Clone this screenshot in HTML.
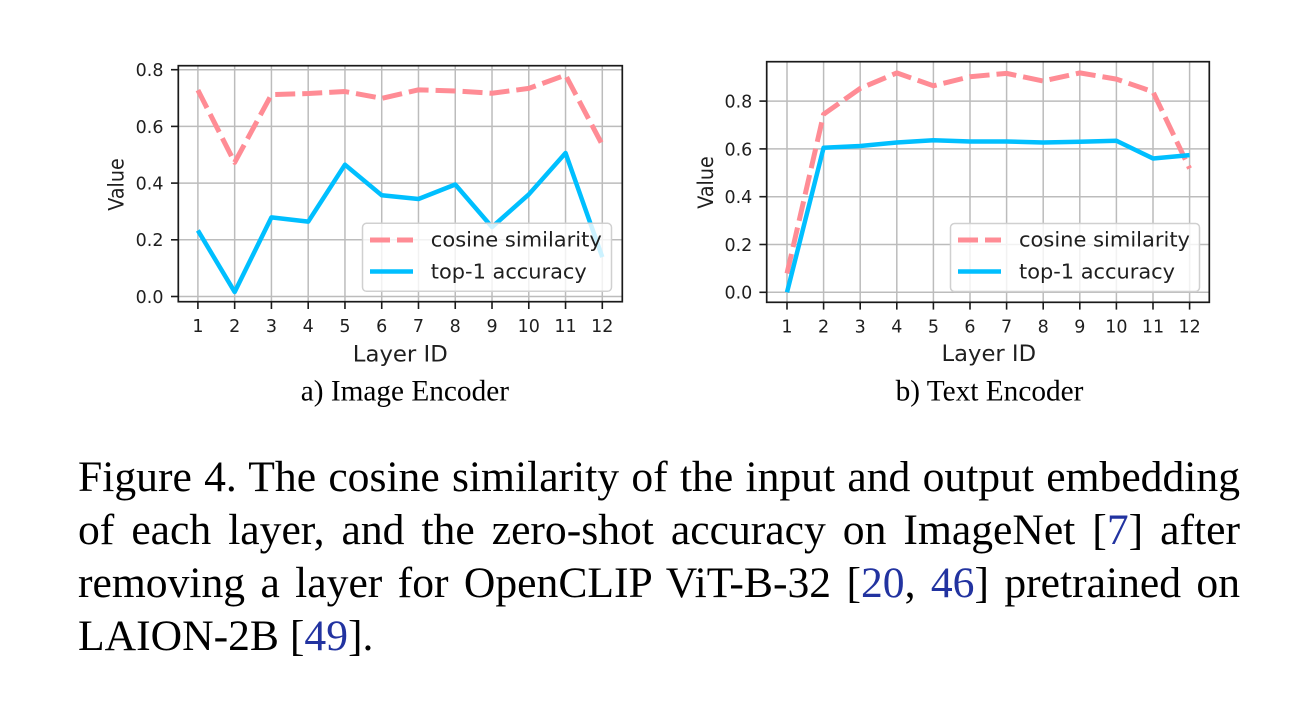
<!DOCTYPE html>
<html>
<head>
<meta charset="utf-8">
<style>
  html,body{margin:0;padding:0;background:#fff;}
  body{width:1310px;height:713px;position:relative;overflow:hidden;}
  svg{position:absolute;left:0;top:0;}
  .cap{position:absolute;left:78px;width:1162px;font-family:"Liberation Serif",serif;font-size:43.6px;line-height:53px;color:#000;white-space:nowrap;}
  .j{text-align:justify;text-align-last:justify;}
  .c{color:#2233a0;}
</style>
</head>
<body>
<svg width="1310" height="713" viewBox="0 0 1310 713" xmlns="http://www.w3.org/2000/svg">
  <rect width="1310" height="713" fill="#fff"/>

  <!-- ============ LEFT CHART ============ -->
  <g stroke="#bcbcbc" stroke-width="1.5" fill="none">
    <line x1="197.9" y1="65.7" x2="197.9" y2="301.7"/>
    <line x1="234.66" y1="65.7" x2="234.66" y2="301.7"/>
    <line x1="271.43" y1="65.7" x2="271.43" y2="301.7"/>
    <line x1="308.19" y1="65.7" x2="308.19" y2="301.7"/>
    <line x1="344.96" y1="65.7" x2="344.96" y2="301.7"/>
    <line x1="381.72" y1="65.7" x2="381.72" y2="301.7"/>
    <line x1="418.48" y1="65.7" x2="418.48" y2="301.7"/>
    <line x1="455.25" y1="65.7" x2="455.25" y2="301.7"/>
    <line x1="492.01" y1="65.7" x2="492.01" y2="301.7"/>
    <line x1="528.78" y1="65.7" x2="528.78" y2="301.7"/>
    <line x1="565.54" y1="65.7" x2="565.54" y2="301.7"/>
    <line x1="602.3" y1="65.7" x2="602.3" y2="301.7"/>
    <line x1="178.3" y1="296.5" x2="622.3" y2="296.5"/>
    <line x1="178.3" y1="239.8" x2="622.3" y2="239.8"/>
    <line x1="178.3" y1="183.1" x2="622.3" y2="183.1"/>
    <line x1="178.3" y1="126.4" x2="622.3" y2="126.4"/>
    <line x1="178.3" y1="69.7" x2="622.3" y2="69.7"/>
  </g>
  <polyline fill="none" stroke="#ff8c95" stroke-width="5" stroke-dasharray="20 7" stroke-linejoin="round"
    points="197.9,90.11 234.66,162.4 271.43,94.65 308.19,93.51 344.96,91.53 381.72,98.33 418.48,89.83 455.25,90.96 492.01,93.23 528.78,88.41 565.54,75.09 602.3,144.83"/>
  <polyline fill="none" stroke="#00bfff" stroke-width="4.5" stroke-linejoin="round"
    points="197.9,230.44 234.66,291.96 271.43,217.4 308.19,221.66 344.96,164.67 381.72,195.29 418.48,198.98 455.25,184.52 492.01,227.04 528.78,194.44 565.54,153.05 602.3,257.09"/>
  <rect x="178.3" y="65.7" width="444" height="236" fill="none" stroke="#1a1a1a" stroke-width="1.7"/>
  <g stroke="#1a1a1a" stroke-width="1.6">
    <line x1="171" y1="296.5" x2="178.3" y2="296.5"/>
    <line x1="171" y1="239.8" x2="178.3" y2="239.8"/>
    <line x1="171" y1="183.1" x2="178.3" y2="183.1"/>
    <line x1="171" y1="126.4" x2="178.3" y2="126.4"/>
    <line x1="171" y1="69.7" x2="178.3" y2="69.7"/>
    <line x1="197.9" y1="301.7" x2="197.9" y2="309"/>
    <line x1="234.66" y1="301.7" x2="234.66" y2="309"/>
    <line x1="271.43" y1="301.7" x2="271.43" y2="309"/>
    <line x1="308.19" y1="301.7" x2="308.19" y2="309"/>
    <line x1="344.96" y1="301.7" x2="344.96" y2="309"/>
    <line x1="381.72" y1="301.7" x2="381.72" y2="309"/>
    <line x1="418.48" y1="301.7" x2="418.48" y2="309"/>
    <line x1="455.25" y1="301.7" x2="455.25" y2="309"/>
    <line x1="492.01" y1="301.7" x2="492.01" y2="309"/>
    <line x1="528.78" y1="301.7" x2="528.78" y2="309"/>
    <line x1="565.54" y1="301.7" x2="565.54" y2="309"/>
    <line x1="602.3" y1="301.7" x2="602.3" y2="309"/>
  </g>
  <g font-family="DejaVu Sans, Liberation Sans, sans-serif" font-size="17.5" fill="#1f1f1f" text-anchor="end">
    <text x="163.5" y="302.9">0.0</text>
    <text x="163.5" y="246.2">0.2</text>
    <text x="163.5" y="189.5">0.4</text>
    <text x="163.5" y="132.8">0.6</text>
    <text x="163.5" y="76.1">0.8</text>
  </g>
  <g font-family="DejaVu Sans, Liberation Sans, sans-serif" font-size="17.5" fill="#1f1f1f" text-anchor="middle">
    <text x="197.9" y="332">1</text>
    <text x="234.66" y="332">2</text>
    <text x="271.43" y="332">3</text>
    <text x="308.19" y="332">4</text>
    <text x="344.96" y="332">5</text>
    <text x="381.72" y="332">6</text>
    <text x="418.48" y="332">7</text>
    <text x="455.25" y="332">8</text>
    <text x="492.01" y="332">9</text>
    <text x="528.78" y="332">10</text>
    <text x="565.54" y="332">11</text>
    <text x="602.3" y="332">12</text>
  </g>
  <text x="400.3" y="361.5" font-family="DejaVu Sans, Liberation Sans, sans-serif" font-size="22.5" fill="#1f1f1f" text-anchor="middle" textLength="95" lengthAdjust="spacingAndGlyphs">Layer ID</text>
  <text transform="translate(123.3,184.5) rotate(-90)" x="0" y="0" font-family="DejaVu Sans, Liberation Sans, sans-serif" font-size="21" fill="#1f1f1f" text-anchor="middle" textLength="52.5" lengthAdjust="spacingAndGlyphs">Value</text>
  <!-- legend -->
  <rect x="362.5" y="223.3" width="249" height="68" rx="4" ry="4" fill="#fff" fill-opacity="0.8" stroke="#d0d0d0" stroke-width="1.5"/>
  <line x1="370" y1="240" x2="413" y2="240" stroke="#ff8c95" stroke-width="5" stroke-dasharray="20 7"/>
  <line x1="370" y1="271.5" x2="413" y2="271.5" stroke="#00bfff" stroke-width="4.5"/>
  <g font-family="DejaVu Sans, Liberation Sans, sans-serif" font-size="20" fill="#1f1f1f">
    <text x="430.8" y="246.7" textLength="171" lengthAdjust="spacingAndGlyphs">cosine similarity</text>
    <text x="430.8" y="278.3" textLength="156" lengthAdjust="spacingAndGlyphs">top-1 accuracy</text>
  </g>

  <!-- ============ RIGHT CHART ============ -->
  <g stroke="#bcbcbc" stroke-width="1.5" fill="none">
    <line x1="787" y1="61.7" x2="787" y2="302.3"/>
    <line x1="823.6" y1="61.7" x2="823.6" y2="302.3"/>
    <line x1="860.2" y1="61.7" x2="860.2" y2="302.3"/>
    <line x1="896.8" y1="61.7" x2="896.8" y2="302.3"/>
    <line x1="933.4" y1="61.7" x2="933.4" y2="302.3"/>
    <line x1="970" y1="61.7" x2="970" y2="302.3"/>
    <line x1="1006.6" y1="61.7" x2="1006.6" y2="302.3"/>
    <line x1="1043.2" y1="61.7" x2="1043.2" y2="302.3"/>
    <line x1="1079.8" y1="61.7" x2="1079.8" y2="302.3"/>
    <line x1="1116.4" y1="61.7" x2="1116.4" y2="302.3"/>
    <line x1="1153" y1="61.7" x2="1153" y2="302.3"/>
    <line x1="1189.6" y1="61.7" x2="1189.6" y2="302.3"/>
    <line x1="766.7" y1="292.3" x2="1209.3" y2="292.3"/>
    <line x1="766.7" y1="244.5" x2="1209.3" y2="244.5"/>
    <line x1="766.7" y1="196.7" x2="1209.3" y2="196.7"/>
    <line x1="766.7" y1="148.9" x2="1209.3" y2="148.9"/>
    <line x1="766.7" y1="101.1" x2="1209.3" y2="101.1"/>
  </g>
  <polyline fill="none" stroke="#ff8c95" stroke-width="5" stroke-dasharray="20 7" stroke-linejoin="round"
    points="787,273.42 823.6,114.24 860.2,88.43 896.8,72.9 933.4,85.8 970,76.72 1006.6,73.38 1043.2,81.02 1079.8,72.9 1116.4,79.11 1153,91.78 1189.6,168.5"/>
  <polyline fill="none" stroke="#00bfff" stroke-width="4.5" stroke-linejoin="round"
    points="787,292.3 823.6,147.7 860.2,146.03 896.8,142.45 933.4,140.3 970,141.49 1006.6,141.49 1043.2,142.45 1079.8,141.73 1116.4,140.77 1153,158.46 1189.6,155.11"/>
  <rect x="766.7" y="61.7" width="442.6" height="240.6" fill="none" stroke="#1a1a1a" stroke-width="1.7"/>
  <g stroke="#1a1a1a" stroke-width="1.6">
    <line x1="759.4" y1="292.3" x2="766.7" y2="292.3"/>
    <line x1="759.4" y1="244.5" x2="766.7" y2="244.5"/>
    <line x1="759.4" y1="196.7" x2="766.7" y2="196.7"/>
    <line x1="759.4" y1="148.9" x2="766.7" y2="148.9"/>
    <line x1="759.4" y1="101.1" x2="766.7" y2="101.1"/>
    <line x1="787" y1="302.3" x2="787" y2="309.6"/>
    <line x1="823.6" y1="302.3" x2="823.6" y2="309.6"/>
    <line x1="860.2" y1="302.3" x2="860.2" y2="309.6"/>
    <line x1="896.8" y1="302.3" x2="896.8" y2="309.6"/>
    <line x1="933.4" y1="302.3" x2="933.4" y2="309.6"/>
    <line x1="970" y1="302.3" x2="970" y2="309.6"/>
    <line x1="1006.6" y1="302.3" x2="1006.6" y2="309.6"/>
    <line x1="1043.2" y1="302.3" x2="1043.2" y2="309.6"/>
    <line x1="1079.8" y1="302.3" x2="1079.8" y2="309.6"/>
    <line x1="1116.4" y1="302.3" x2="1116.4" y2="309.6"/>
    <line x1="1153" y1="302.3" x2="1153" y2="309.6"/>
    <line x1="1189.6" y1="302.3" x2="1189.6" y2="309.6"/>
  </g>
  <g font-family="DejaVu Sans, Liberation Sans, sans-serif" font-size="17.5" fill="#1f1f1f" text-anchor="end">
    <text x="752.3" y="298.7">0.0</text>
    <text x="752.3" y="250.9">0.2</text>
    <text x="752.3" y="203.1">0.4</text>
    <text x="752.3" y="155.3">0.6</text>
    <text x="752.3" y="107.5">0.8</text>
  </g>
  <g font-family="DejaVu Sans, Liberation Sans, sans-serif" font-size="17.5" fill="#1f1f1f" text-anchor="middle">
    <text x="787" y="332.4">1</text>
    <text x="823.6" y="332.4">2</text>
    <text x="860.2" y="332.4">3</text>
    <text x="896.8" y="332.4">4</text>
    <text x="933.4" y="332.4">5</text>
    <text x="970" y="332.4">6</text>
    <text x="1006.6" y="332.4">7</text>
    <text x="1043.2" y="332.4">8</text>
    <text x="1079.8" y="332.4">9</text>
    <text x="1116.4" y="332.4">10</text>
    <text x="1153" y="332.4">11</text>
    <text x="1189.6" y="332.4">12</text>
  </g>
  <text x="988.8" y="361" font-family="DejaVu Sans, Liberation Sans, sans-serif" font-size="22.5" fill="#1f1f1f" text-anchor="middle" textLength="94.5" lengthAdjust="spacingAndGlyphs">Layer ID</text>
  <text transform="translate(713,182.5) rotate(-90)" x="0" y="0" font-family="DejaVu Sans, Liberation Sans, sans-serif" font-size="21" fill="#1f1f1f" text-anchor="middle" textLength="52.5" lengthAdjust="spacingAndGlyphs">Value</text>
  <!-- legend -->
  <rect x="950.5" y="223.5" width="249" height="68" rx="4" ry="4" fill="#fff" fill-opacity="0.8" stroke="#d0d0d0" stroke-width="1.5"/>
  <line x1="958" y1="240" x2="1001" y2="240" stroke="#ff8c95" stroke-width="5" stroke-dasharray="20 7"/>
  <line x1="958" y1="271.5" x2="1001" y2="271.5" stroke="#00bfff" stroke-width="4.5"/>
  <g font-family="DejaVu Sans, Liberation Sans, sans-serif" font-size="20" fill="#1f1f1f">
    <text x="1019" y="246.7" textLength="171" lengthAdjust="spacingAndGlyphs">cosine similarity</text>
    <text x="1019" y="278.3" textLength="156" lengthAdjust="spacingAndGlyphs">top-1 accuracy</text>
  </g>

  <!-- subtitles -->
  <g font-family="Liberation Serif, serif" font-size="29.3" fill="#000" text-anchor="middle">
    <text x="404.9" y="400.7">a) Image Encoder</text>
    <text x="989.5" y="400.7">b) Text Encoder</text>
  </g>
</svg>

<div class="cap j" style="top:450.6px;">Figure 4. The cosine similarity of the input and output embedding</div>
<div class="cap j" style="top:503.6px;">of each layer, and the zero-shot accuracy on ImageNet [<span class="c">7</span>] after</div>
<div class="cap j" style="top:556.6px;">removing a layer for OpenCLIP ViT-B-32 [<span class="c">20</span>, <span class="c">46</span>] pretrained on</div>
<div class="cap" style="top:609.6px;">LAION-2B [<span class="c">49</span>].</div>
</body>
</html>
